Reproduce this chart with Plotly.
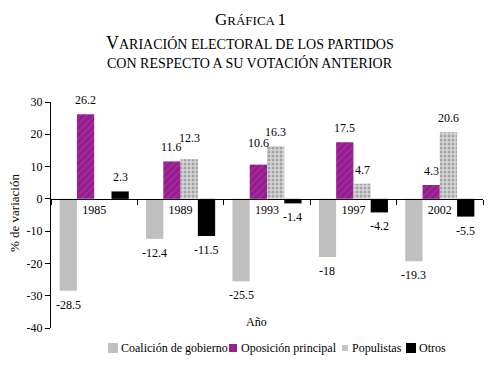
import plotly.graph_objects as go

years = ["1985", "1989", "1993", "1997", "2002"]
coalicion = [-28.5, -12.4, -25.5, -18, -19.3]
oposicion = [26.2, 11.6, 10.6, 17.5, 4.3]
populistas = [None, 12.3, 16.3, 4.7, 20.6]
otros = [2.3, -11.5, -1.4, -4.2, -5.5]
series_names = ["Coalición de gobierno", "Oposición principal", "Populistas", "Otros"]
yticks = [30, 20, 10, 0, -10, -20, -30, -40]

SERIF = "Liberation Serif, Times New Roman, serif"

# page offset (default body margin) and layout geometry in screen pixels
OFF = 8
W, H = 496 - OFF, 366 - OFF
ML, MT = 51 - OFF, 102 - OFF
MR, MB = 13, 38
PW, PH = W - ML - MR, H - MT - MB
BARGAP = 0.2
YMIN, YMAX = -40, 30

def px(sx):   # screen x -> paper x
    return (sx - OFF - ML) / PW

def py(sy):   # screen y -> paper y
    return (MT + PH - (sy - OFF)) / PH

styles = [
    dict(color="#c0c0c0", line=dict(width=0)),
    dict(color="#8a1f9c", line=dict(width=0),
         pattern=dict(shape="/", fgcolor="#e0306a", size=5, solidity=0.35)),
    dict(color="#b8b8b8", line=dict(width=0),
         pattern=dict(shape=".", fgcolor="#6e6e6e", bgcolor="#d6d6d6", size=4, solidity=0.45)),
    dict(color="#000000", line=dict(width=0)),
]
legend_sq_colors = ["#c0c0c0", "#9a1f8a", "#c4c4c4", "#000000"]
# extra label lift (px) for a couple of crowded labels
label_nudge = {(2, 1): 7, (1, 2): 8}

all_series = [coalicion, oposicion, populistas, otros]

fig = go.Figure()
for name, vals, st in zip(series_names, all_series, styles):
    fig.add_bar(name=name, x=years, y=vals, marker=st, showlegend=False)

# value labels through the data scales
bar_px = PW / len(years) * (1 - BARGAP) / len(all_series)
for si, vals in enumerate(all_series):
    xs = (si - (len(all_series) - 1) / 2) * bar_px
    for ci, v in enumerate(vals):
        if v is None:
            continue
        lift = 14 + label_nudge.get((si, ci), 0)
        fig.add_annotation(x=ci, y=v, xref="x", yref="y", text=f"{v:g}",
                           showarrow=False, xshift=xs, yshift=lift if v >= 0 else -lift,
                           xanchor="center", yanchor="middle",
                           font=dict(family=SERIF, size=12, color="black"))

fig.update_layout(
    width=W, height=H,
    margin=dict(l=ML, r=MR, t=MT, b=MB, autoexpand=False),
    paper_bgcolor="white", plot_bgcolor="white",
    barmode="group", bargap=BARGAP, bargroupgap=0,
    font=dict(family=SERIF, size=12, color="black"),
    showlegend=False,
)
fig.update_xaxes(
    type="category", range=[-0.5, len(years) - 0.5],
    anchor="free", position=(0 - YMIN) / (YMAX - YMIN),
    showline=True, linecolor="black", linewidth=1,
    ticks="outside", ticklen=5, tickcolor="black", tickson="boundaries",
    showgrid=False, zeroline=False, automargin=False,
    tickfont=dict(family=SERIF, size=12),
)
fig.update_yaxes(
    range=[YMIN, YMAX], tickvals=yticks, ticktext=[str(v) for v in yticks],
    showline=True, linecolor="black", linewidth=1,
    ticks="outside", ticklen=5, tickcolor="black",
    showgrid=False, zeroline=False, automargin=False,
    tickfont=dict(family=SERIF, size=12),
)

# y-axis title
fig.add_annotation(text="% de variación", xref="paper", yref="paper",
                   x=px(14), y=py(213), textangle=-90,
                   xanchor="center", yanchor="middle", showarrow=False,
                   font=dict(family=SERIF, size=13, color="black"))

# x-axis title
fig.add_annotation(text="Año", xref="paper", yref="paper", x=px(256), y=py(322),
                   xanchor="center", yanchor="middle",
                   showarrow=False, font=dict(family=SERIF, size=12, color="black"))

def sc(big_part, small_part, big, small):
    s = ""
    if big_part:
        s += f"<span style='font-size:{big}px'>{big_part}</span>"
    if small_part:
        s += f"<span style='font-size:{small}px'>{small_part}</span>"
    return s

title1 = sc("G", "RÁFICA ", 17, 13) + sc("1", "", 17, 13)
title2 = sc("V", "ARIACIÓN ELECTORAL DE LOS PARTIDOS", 18, 14)
title3 = sc("", "CON RESPECTO A SU VOTACIÓN ANTERIOR", 18, 14)

fig.add_annotation(text=title1, xref="paper", yref="paper", x=px(250), y=py(OFF),
                   xanchor="center", yanchor="top", showarrow=False,
                   font=dict(family=SERIF, size=14, color="black"))
for txt, ycen in [(title2, 43), (title3, 63)]:
    fig.add_annotation(text=txt, xref="paper", yref="paper", x=px(250), y=py(ycen),
                       xanchor="center", yanchor="middle", showarrow=False,
                       font=dict(family=SERIF, size=14, color="black"))

# legend (drawn manually to match the compact layout)
sq_boxes = [(108, 118, 343, 353), (229, 237, 344, 352), (342, 348, 345, 351), (406, 416, 343, 353)]
text_x = [119, 239, 350, 417]
for name, col, (x0, x1, y0, y1), tx in zip(series_names, legend_sq_colors, sq_boxes, text_x):
    fig.add_shape(type="rect", xref="paper", yref="paper",
                  x0=px(x0), x1=px(x1), y0=py(y1), y1=py(y0),
                  fillcolor=col, line=dict(width=0), layer="above")
    fig.add_annotation(text=name, xref="paper", yref="paper", x=px(tx), y=py(348),
                       xanchor="left", yanchor="middle",
                       showarrow=False, font=dict(family=SERIF, size=12, color="black"))

fig.write_html("out.html")
